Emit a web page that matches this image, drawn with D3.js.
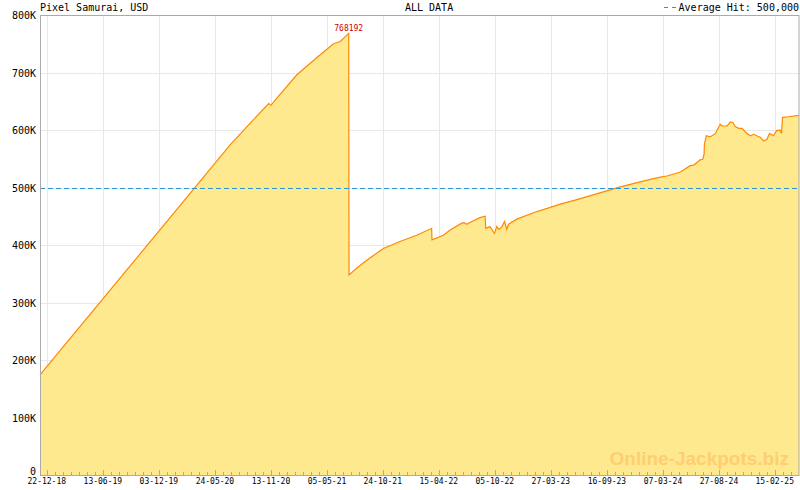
<!DOCTYPE html>
<html>
<head>
<meta charset="utf-8">
<script src="https://cdn.jsdelivr.net/npm/d3@7"></script>
<style>
  body { margin: 0; background: #fff; }
  svg { display: block; }
  text { font-family: "DejaVu Sans Mono", monospace; }
</style>
</head>
<body>
<svg id="chart" width="800" height="490"></svg>
<script>
const title = "Pixel Samurai, USD";
const subtitle = "ALL DATA";
const averageHit = 500000;
const peakValue = 768192;

const dates = [
  "2018-12-01", "2020-07-10", "2020-09-10", "2020-11-06", "2020-11-13", "2020-11-26",
  "2021-02-01", "2021-04-04", "2021-05-25", "2021-06-15", "2021-07-11", "2021-07-12",
  "2021-08-05", "2021-09-06", "2021-10-26", "2021-12-16", "2022-02-06", "2022-03-24",
  "2022-03-25", "2022-04-29", "2022-05-20", "2022-06-25", "2022-07-02", "2022-07-10",
  "2022-07-26", "2022-08-20", "2022-09-05", "2022-09-07", "2022-09-20", "2022-10-04",
  "2022-10-11", "2022-10-18", "2022-10-27", "2022-11-04", "2022-11-11", "2022-11-16",
  "2022-12-12", "2023-02-01", "2023-03-25", "2023-04-25", "2023-05-15", "2023-06-10",
  "2023-09-26", "2023-10-27", "2024-01-28", "2024-02-28", "2024-03-19", "2024-04-30",
  "2024-05-30", "2024-06-10", "2024-06-30", "2024-07-08", "2024-07-12", "2024-07-13",
  "2024-07-19", "2024-07-31", "2024-08-16", "2024-08-31", "2024-09-05", "2024-09-21",
  "2024-10-01", "2024-10-09", "2024-10-16", "2024-10-27", "2024-11-06", "2024-11-21",
  "2024-12-02", "2024-12-12", "2025-01-02", "2025-01-12", "2025-01-22", "2025-01-30",
  "2025-02-11", "2025-02-21", "2025-03-03", "2025-03-08", "2025-03-11", "2025-03-29",
  "2025-05-01",
];
const values = [
  174000, 574000, 612000, 646000, 643000, 652000,
  696000, 726000, 750000, 754000, 768192, 348000,
  360000, 374000, 394000, 406000, 417000, 429000,
  409000, 417000, 426000, 438000, 439000, 436000,
  441000, 447500, 450000, 429000, 432000, 420000,
  432000, 427000, 432000, 441000, 427000, 436000,
  445000, 456000, 465500, 471000, 474000, 478000,
  496000, 501000, 514000, 518000, 520000, 527000,
  538000, 539000, 548000, 549000, 558000, 575000,
  590000, 588000, 594000, 610000, 607000, 607000,
  614000, 613000, 606000, 603000, 603000, 594000,
  590000, 592500, 587000, 581000, 584000, 594000,
  590000, 599000, 600000, 594000, 622000, 623000,
  625500,
];

const xTickLabels = [
  "22-12-18", "13-06-19", "03-12-19", "24-05-20", "13-11-20", "05-05-21", "24-10-21",
  "15-04-22", "05-10-22", "27-03-23", "16-09-23", "07-03-24", "27-08-24", "15-02-25",
];
const yTicks = [0, 100000, 200000, 300000, 400000, 500000, 600000, 700000, 800000];
const yTickLabels = ["0", "100K", "200K", "300K", "400K", "500K", "600K", "700K", "800K"];

const parseDate = d3.utcParse("%Y-%m-%d");
const parseTick = d3.utcParse("%d-%m-%y");
const data = dates.map((d, i) => ({ date: parseDate(d), value: values[i] }));
const majorTicks = xTickLabels.map(parseTick);

const plotLeft = 40, plotRight = 799, plotTop = 15, plotBottom = 475;

const svg = d3.select("#chart");

const x = d3.scaleUtc()
  .domain([parseDate("2018-12-01"), parseDate("2025-05-01")])
  .range([plotLeft, plotRight]);
const y = d3.scaleLinear().domain([0, 800000]).range([plotBottom, plotTop]);

// minor ticks: 7 per major interval
const step = (majorTicks[1] - majorTicks[0]) / 7;
const minorTicks = [];
for (let t = +majorTicks[0] + step; t <= +x.domain()[1]; t += step) {
  minorTicks.push(new Date(t));
}

// grid
svg.append("g")
  .selectAll("line")
  .data(yTicks.slice(1, -1))
  .join("line")
  .attr("x1", plotLeft).attr("x2", plotRight)
  .attr("y1", (d) => Math.round(y(d)) + 0.5).attr("y2", (d) => Math.round(y(d)) + 0.5)
  .attr("stroke", "#e8e8e8");

svg.append("g")
  .selectAll("line")
  .data(majorTicks)
  .join("line")
  .attr("x1", (d) => Math.round(x(d)) + 0.5).attr("x2", (d) => Math.round(x(d)) + 0.5)
  .attr("y1", plotTop).attr("y2", plotBottom)
  .attr("stroke", "#e8e8e8");

// area + line
const area = d3.area()
  .x((d) => x(d.date))
  .y0(y(0))
  .y1((d) => y(d.value));
const line = d3.line()
  .x((d) => x(d.date))
  .y((d) => y(d.value));

svg.append("path")
  .datum(data)
  .attr("d", area)
  .attr("fill", "#ffe98f");

// watermark
svg.append("text")
  .attr("x", 789).attr("y", 465)
  .attr("text-anchor", "end")
  .style("font-family", "'Liberation Sans', Arial, sans-serif")
  .style("font-weight", "bold")
  .style("font-size", "19px")
  .attr("fill", "#ffcd72")
  .text("Online-Jackpots.biz");

svg.append("path")
  .datum(data)
  .attr("d", line)
  .attr("fill", "none")
  .attr("stroke", "#ff8800")
  .attr("stroke-width", 1.2);

// average hit line
svg.append("line")
  .attr("x1", plotLeft).attr("x2", plotRight)
  .attr("y1", Math.round(y(averageHit)) + 0.5).attr("y2", Math.round(y(averageHit)) + 0.5)
  .attr("stroke", "#2b95d0")
  .attr("stroke-width", 1.2)
  .attr("stroke-dasharray", "5,3");

// frame
svg.append("rect")
  .attr("x", plotLeft + 0.5).attr("y", plotTop + 0.5)
  .attr("width", plotRight - plotLeft - 0.5).attr("height", plotBottom - plotTop)
  .attr("fill", "none")
  .attr("stroke", "#aaaaaa");

// x ticks (pointing up)
svg.append("g")
  .selectAll("line")
  .data(minorTicks)
  .join("line")
  .attr("x1", (d) => Math.round(x(d)) + 0.5).attr("x2", (d) => Math.round(x(d)) + 0.5)
  .attr("y1", plotBottom - 3).attr("y2", plotBottom)
  .attr("stroke", "#aaaaaa");
svg.append("g")
  .selectAll("line")
  .data(majorTicks)
  .join("line")
  .attr("x1", (d) => Math.round(x(d)) + 0.5).attr("x2", (d) => Math.round(x(d)) + 0.5)
  .attr("y1", plotBottom - 5).attr("y2", plotBottom)
  .attr("stroke", "#aaaaaa");

svg.append("g")
  .selectAll("text")
  .data(majorTicks)
  .join("text")
  .attr("x", (d) => x(d))
  .attr("y", 484)
  .attr("text-anchor", "middle")
  .style("font-size", "8px")
  .attr("fill", "#000")
  .text((d, i) => xTickLabels[i]);

// y labels
svg.append("g")
  .selectAll("text")
  .data(yTicks)
  .join("text")
  .attr("x", 36)
  .attr("y", (d) => (d === 0 ? y(d) - 0.5 : y(d) + 4))
  .attr("text-anchor", "end")
  .style("font-size", "10px")
  .attr("fill", "#000")
  .text((d, i) => yTickLabels[i]);

// titles
svg.append("text")
  .attr("x", 40).attr("y", 11)
  .style("font-size", "10px")
  .text(title);
svg.append("text")
  .attr("x", 405).attr("y", 11)
  .style("font-size", "10px")
  .text(subtitle);

// legend
svg.append("line")
  .attr("x1", 664).attr("x2", 677)
  .attr("y1", 7.5).attr("y2", 7.5)
  .attr("stroke", "#2b95d0")
  .attr("stroke-dasharray", "4,4");
svg.append("text")
  .attr("x", 799).attr("y", 11)
  .attr("text-anchor", "end")
  .style("font-size", "10px")
  .text("Average Hit: " + d3.format(",")(averageHit));

// peak label
const peak = data.find((d) => d.value === peakValue);
svg.append("text")
  .attr("x", x(peak.date))
  .attr("y", y(peak.value) - 2)
  .attr("text-anchor", "middle")
  .style("font-size", "8px")
  .attr("fill", "#cc0000")
  .text(peakValue);
</script>
</body>
</html>
